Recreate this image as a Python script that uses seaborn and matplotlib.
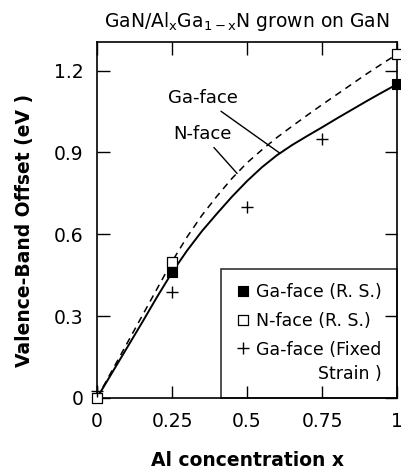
import matplotlib
matplotlib.use("Agg")
import matplotlib.pyplot as plt
import seaborn as sns
import numpy as np

# curves (Al fraction x vs valence-band offset)
x_curve = [0, 0.05, 0.1, 0.15, 0.2, 0.25, 0.3, 0.35, 0.4, 0.45, 0.5,
           0.55, 0.6, 0.65, 0.7, 0.75, 0.8, 0.85, 0.9, 0.95, 1.0]
ga_face_curve = [0, 0.092, 0.184, 0.276, 0.37, 0.46, 0.54, 0.612, 0.676, 0.738, 0.795,
                 0.846, 0.89, 0.927, 0.96, 0.992, 1.025, 1.057, 1.089, 1.12, 1.15]
n_face_curve = [0, 0.10, 0.20, 0.30, 0.40, 0.50, 0.59, 0.67, 0.74, 0.805, 0.862,
                0.91, 0.955, 0.996, 1.036, 1.075, 1.113, 1.151, 1.189, 1.225, 1.26]

# calculated points
x_rs = [0.25, 1.0]
ga_face_rs = [0.46, 1.15]
x_rs_n = [0, 0.25, 1.0]
n_face_rs = [0, 0.50, 1.26]
x_fixed = [0, 0.25, 0.5, 0.75]
ga_face_fixed = [0.025, 0.39, 0.70, 0.95]

x_ticks = [0, 0.25, 0.5, 0.75, 1]
x_ticklabels = ["0", "0.25", "0.5", "0.75", "1"]
y_ticks = [0, 0.3, 0.6, 0.9, 1.2]
y_ticklabels = ["0", "0.3", "0.6", "0.9", "1.2"]

sns.set_style("ticks")
plt.rcParams['font.family'] = ['DejaVu Sans']
plt.rcParams['text.color'] = 'black'
plt.rcParams['axes.labelcolor'] = 'black'
plt.rcParams['xtick.color'] = 'black'
plt.rcParams['ytick.color'] = 'black'

fig = plt.figure(figsize=(4.01, 4.72), dpi=100)
ax = fig.add_axes([0.242, 0.157, 0.748, 0.754])

sns.lineplot(x=x_curve, y=ga_face_curve, ax=ax, color="black", lw=1.4, zorder=2)
sns.lineplot(x=x_curve, y=n_face_curve, ax=ax, color="black", lw=1.1,
             linestyle=(0, (4.5, 3.5)), zorder=2)

sns.scatterplot(x=x_rs, y=ga_face_rs, ax=ax, marker="s", s=60, color="black",
                edgecolor="black", linewidth=0.8, label="Ga-face (R. S.)",
                zorder=4, clip_on=False)
sns.scatterplot(x=x_rs_n, y=n_face_rs, ax=ax, marker="s", s=60, color="white",
                edgecolor="black", linewidth=0.9, label="N-face (R. S.)",
                zorder=3, clip_on=False)
sns.scatterplot(x=x_fixed, y=ga_face_fixed, ax=ax, marker="+", s=70, color="black",
                linewidth=1.0, label="Ga-face (Fixed\nStrain )", zorder=4, clip_on=False)

ax.annotate("Ga-face", xy=(0.61, 0.897), xytext=(0.352, 1.099),
            ha="center", va="center", fontsize=13,
            arrowprops=dict(arrowstyle="-", color="black", lw=1.0,
                            shrinkA=1, shrinkB=0))
ax.annotate("N-face", xy=(0.467, 0.823), xytext=(0.35, 0.967),
            ha="center", va="center", fontsize=13,
            arrowprops=dict(arrowstyle="-", color="black", lw=1.0,
                            shrinkA=1, shrinkB=0))

ax.set_xlim(0, 1)
ax.set_ylim(0, 1.305)
ax.set_xticks(x_ticks)
ax.set_xticklabels(x_ticklabels)
ax.set_yticks(y_ticks)
ax.set_yticklabels(y_ticklabels)
ax.tick_params(direction="in", length=9, width=1.0, labelsize=13.5,
               top=True, right=True, pad=10, color="black")
for sp in ax.spines.values():
    sp.set_visible(True)
    sp.set_linewidth(1.2)
    sp.set_color("black")

ax.set_xlabel("Al concentration x", fontsize=13.5, fontweight="bold")
ax.set_ylabel("Valence-Band Offset (eV )", fontsize=13.5, fontweight="bold")
ax.xaxis.set_label_coords(0.5, -0.15)
ax.yaxis.set_label_coords(-0.21, 0.47)
ax.set_title("GaN/Al$_\\mathregular{x}$Ga$_\\mathregular{1-x}$N grown on GaN",
             fontsize=13.5, pad=11)

leg = ax.legend(loc="lower right", bbox_to_anchor=(1.0, 0.0), borderaxespad=0,
                frameon=True, fancybox=False, edgecolor="black", facecolor="none",
                fontsize=12.5, handletextpad=0.3, handlelength=0.9,
                borderpad=0.85, labelspacing=0.62)
leg.get_frame().set_linewidth(1.2)
for t in leg.get_texts():
    t.set_multialignment("right")
    t.set_linespacing(1.45)
# put the "+" next to the first line of the two-line label
for col in leg._legend_handle_box.get_children():
    for row in col.get_children():
        row.align = "top"

fig.savefig("out.png", dpi=100)
